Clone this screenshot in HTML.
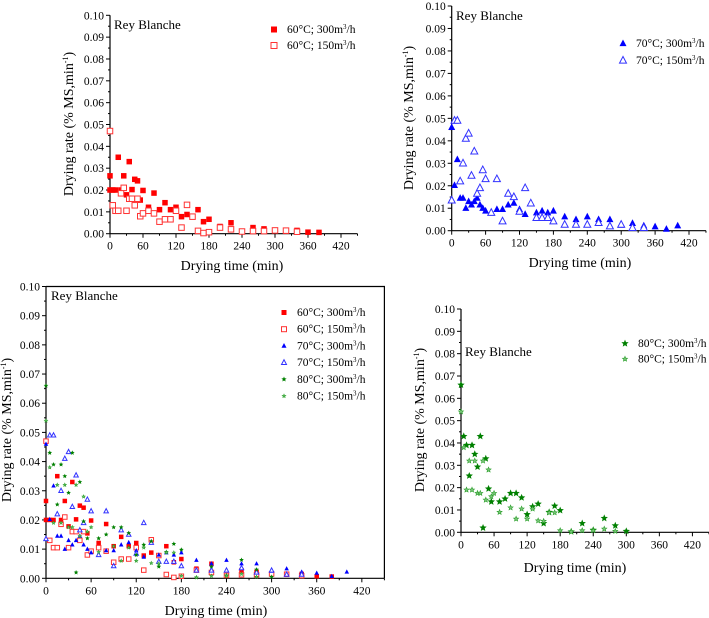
<!DOCTYPE html>
<html><head><meta charset="utf-8">
<style>
html,body{margin:0;padding:0;background:#fff;}
svg{display:block;font-family:"Liberation Serif",serif;}
</style></head>
<body>
<svg id="fig" width="709" height="618" viewBox="0 0 709 618" xmlns="http://www.w3.org/2000/svg"></svg>
<script>
// ---- data (time in min, rate in % MS/min) ----
const s60hT=[0,0,5,10,15,20,25,30,35,40,45,50,55,60,70,80,90,100,110,120,130,140,160,170,180,200,220,240,260,280,300,320,340,360,380];
const s60hY=[0.0265,0.02,0.02,0.02,0.035,0.02,0.0265,0.0178,0.033,0.0202,0.0249,0.0242,0.0154,0.0198,0.0121,0.0186,0.011,0.0142,0.011,0.0121,0.0078,0.0088,0.011,0.0055,0.0066,0.0033,0.005,0.001,0.0028,0.0022,0.0015,0.0012,0.0015,0.0007,0.0006];
const s60lT=[0,5,10,15,20,25,30,35,40,45,50,55,60,70,80,90,100,110,120,130,140,150,160,170,180,200,220,240,260,280,300,320,340];
const s60lY=[0.047,0.013,0.0105,0.0105,0.0185,0.021,0.0105,0.016,0.016,0.013,0.016,0.008,0.0093,0.0105,0.0093,0.0055,0.0066,0.0066,0.0105,0.0028,0.0132,0.0078,0.0013,0.0003,0.0007,0.0028,0.002,0.001,0.0012,0.0012,0.0015,0.0014,0.0009];
const s70hT=[0,5,10,15,20,25,30,35,40,45,50,55,60,80,90,100,110,120,130,150,160,170,180,200,220,240,260,280,300,320,340,360,380,400];
const s70hY=[0.046,0.0202,0.0317,0.0145,0.0145,0.01,0.013,0.0115,0.013,0.0145,0.0115,0.01,0.0088,0.0095,0.0095,0.0115,0.0123,0.0095,0.0073,0.008,0.0088,0.008,0.0088,0.0062,0.005,0.0062,0.005,0.005,0.0025,0.0033,0.0022,0.0018,0.0007,0.0022];
const s70lT=[0,5,10,15,20,25,30,35,40,45,50,55,60,70,80,90,100,110,120,130,140,150,160,170,180,200,220,240,260,280,300,320,340];
const s70lY=[0.0135,0.049,0.049,0.022,0.03,0.041,0.0433,0.0245,0.0353,0.0165,0.019,0.027,0.023,0.008,0.023,0.0042,0.0165,0.015,0.0085,0.019,0.0122,0.0057,0.0057,0.0057,0.0042,0.0027,0.0027,0.0027,0.0035,0.002,0.0027,0.0013,0.0013];
const s80hT=[0,5,10,15,20,25,30,35,40,45,50,55,70,80,90,100,110,120,130,140,150,160,170,180,200,220,240,260,280,300];
const s80hY=[0.066,0.043,0.039,0.0253,0.039,0.035,0.0293,0.043,0.002,0.033,0.0195,0.0137,0.0137,0.015,0.0175,0.0175,0.0155,0.008,0.0115,0.0127,0.004,0.009,0.0118,0.0098,0.0003,0.004,0.001,0.0063,0.003,0.0005];
const s80lT=[0,5,10,15,20,25,30,35,40,45,50,55,60,70,90,100,110,120,130,140,150,160,170,180,200,220,240,260,280];
const s80lY=[0.054,0.038,0.019,0.032,0.019,0.032,0.0175,0.0175,0.032,0.0145,0.028,0.016,0.0175,0.009,0.011,0.006,0.0105,0.006,0.0105,0.0052,0.005,0.0088,0.0088,0.0008,0.0003,0.0008,0.0008,0.0015,0.0005];
const xTicks=[0,60,120,180,240,300,360,420];
const yTicks=[0,0.01,0.02,0.03,0.04,0.05,0.06,0.07,0.08,0.09,0.10];

const NS="http://www.w3.org/2000/svg";
const fig=document.getElementById('fig');
function mk(tag,attrs,parent){const e=document.createElementNS(NS,tag);for(const k in attrs)e.setAttribute(k,attrs[k]);(parent||fig).appendChild(e);return e;}
const SER={
 '60h':{t:s60hT,y:s60hY,c:'#ff0000',shape:'sq',fill:true,label:'60°C; 300m',name:'series-60c-300'},
 '60l':{t:s60lT,y:s60lY,c:'#ff3333',shape:'sq',fill:false,label:'60°C; 150m',name:'series-60c-150'},
 '70h':{t:s70hT,y:s70hY,c:'#0000ff',shape:'tri',fill:true,label:'70°C; 300m',name:'series-70c-300'},
 '70l':{t:s70lT,y:s70lY,c:'#3333ff',shape:'tri',fill:false,label:'70°C; 150m',name:'series-70c-150'},
 '80h':{t:s80hT,y:s80hY,c:'#008000',shape:'star',fill:true,label:'80°C; 300m',name:'series-80c-300'},
 '80l':{t:s80lT,y:s80lY,c:'#2aa02a',shape:'star',fill:true,small:true,label:'80°C; 150m',name:'series-80c-150'}
};
function marker(g,shape,cx,cy,s,color,fill,small){
  let e;
  if(shape==='sq'){e=mk('rect',{x:cx-s/2,y:cy-s/2,width:s,height:s,fill:fill?color:'#fff',stroke:color,'stroke-width':fill?0:1},g);}
  else if(shape==='tri'){const h=s*0.95;e=mk('polygon',{points:`${cx},${cy-h*0.6} ${cx-s/2},${cy+h*0.4} ${cx+s/2},${cy+h*0.4}`,fill:fill?color:'#fff',stroke:color,'stroke-width':fill?0:1},g);}
  else{const r=small?s*0.38:s*0.55,ri=r*0.45;let p=[];for(let i=0;i<10;i++){const a=-Math.PI/2+i*Math.PI/5;const rr=i%2?ri:r;p.push((cx+rr*Math.cos(a)).toFixed(2)+','+(cy+rr*Math.sin(a)).toFixed(2));}
    e=mk('polygon',{points:p.join(' '),fill:small?'#7cc47c':color,stroke:color,'stroke-width':small?0.6:0},g);}
  return e;
}
function panel(cfg){
  const g=mk('g',{});
  
  
  const X=t=>cfg.ox+t*cfg.sx, Y=v=>cfg.oy-v*100*cfg.sy;
  const xEnd=X(450), yTop=Y(0.10);
  const ax=mk('line',{x1:cfg.ox,y1:cfg.oy,x2:xEnd,y2:cfg.oy,stroke:'#000','stroke-width':1.2},g);
  
  const ay=mk('line',{x1:cfg.ox,y1:cfg.oy,x2:cfg.ox,y2:yTop,stroke:'#000','stroke-width':1.2},g);
  
  if(cfg.frame){mk('polyline',{points:`${cfg.ox},${yTop} ${xEnd},${yTop} ${xEnd},${cfg.oy}`,fill:'none',stroke:'#000','stroke-width':1.2},g);}
  xTicks.forEach(t=>{mk('line',{x1:X(t),y1:cfg.oy,x2:X(t),y2:cfg.oy+4,stroke:'#000'},g);
    mk('line',{x1:X(t+30),y1:cfg.oy,x2:X(t+30),y2:cfg.oy+2,stroke:'#000'},g);
    const tx=mk('text',{x:X(t),y:cfg.oy+16,'font-size':cfg.fs,'text-anchor':'middle'},g);tx.textContent=t;
    });
  yTicks.forEach((v,i)=>{mk('line',{x1:cfg.ox-4,y1:Y(v),x2:cfg.ox,y2:Y(v),stroke:'#000'},g);
    if(i<10)mk('line',{x1:cfg.ox-2,y1:Y(v+0.005),x2:cfg.ox,y2:Y(v+0.005),stroke:'#000'},g);
    const tx=mk('text',{x:cfg.ox-6,y:Y(v)+4,'font-size':cfg.fs,'text-anchor':'end'},g);tx.textContent=v.toFixed(2);
    });
  const xt=mk('text',{x:cfg.xtx,y:cfg.xty,'font-size':cfg.tfs,'text-anchor':'middle'},g);xt.textContent='Drying time (min)';
  
  const yt=mk('text',{x:0,y:0,'font-size':cfg.tfs,'text-anchor':'middle',transform:`translate(${cfg.ytx},${cfg.yty}) rotate(-90)`},g);
  yt.innerHTML='Drying rate (% MS,min<tspan dy="-5" font-size="8">-1</tspan><tspan dy="5">)</tspan>';
  
  const rb=mk('text',{x:cfg.rbx,y:cfg.rby,'font-size':cfg.rfs},g);rb.textContent='Rey Blanche';
  
  cfg.series.forEach((k,i)=>{const s=SER[k];
    const sg=mk('g',{},g);
    s.t.forEach((t,j)=>{const m=marker(sg,s.shape,X(t),Y(s.y[j]),cfg.ms,s.c,s.fill,s.small);
      });
    const ly=cfg.ly+i*cfg.ldy;
    const lg=mk('g',{},g);
    marker(lg,s.shape,cfg.lx,ly-3.5,cfg.lms,s.c,s.fill,s.small);
    const lt=mk('text',{x:cfg.lx+13,y:ly,'font-size':cfg.lfs},lg);
    lt.innerHTML=s.label+'<tspan dy="-4" font-size="7">3</tspan><tspan dy="4">/h</tspan>';
  });
}
panel({name:'panel-60c',ox:110,oy:233.7,sx:0.55,sy:21.84,frame:false,fs:11.5,tfs:14,rfs:13,
 xtx:232,xty:270,ytx:73,yty:124,rbx:114,rby:29,series:['60h','60l'],ms:5.5,lx:274,ly:33,ldy:16,lms:6,lfs:11.5});
panel({name:'panel-70c',ox:451.7,oy:230.7,sx:0.565,sy:22.47,frame:false,fs:11.5,tfs:14,rfs:13,
 xtx:580,xty:267,ytx:413,yty:118,rbx:456,rby:20,series:['70h','70l'],ms:7,lx:623,ly:47,ldy:17,lms:7,lfs:11.5});
panel({name:'panel-all',ox:46,oy:578.3,sx:0.752,sy:29.18,frame:true,fs:11.5,tfs:14,rfs:13,
 xtx:216,xty:615,ytx:11,yty:430,rbx:51,rby:300,series:['60h','60l','70h','70l','80h','80l'],ms:4.5,lx:284,ly:316,ldy:16.7,lms:5,lfs:11.5});
panel({name:'panel-80c',ox:461,oy:532.3,sx:0.551,sy:22.33,frame:false,fs:11.5,tfs:14,rfs:13,
 xtx:575,xty:572,ytx:424,yty:420,rbx:465,rby:356,series:['80h','80l'],ms:7,lx:625,ly:347,ldy:15.5,lms:7,lfs:11.5});
</script>
</body></html>
